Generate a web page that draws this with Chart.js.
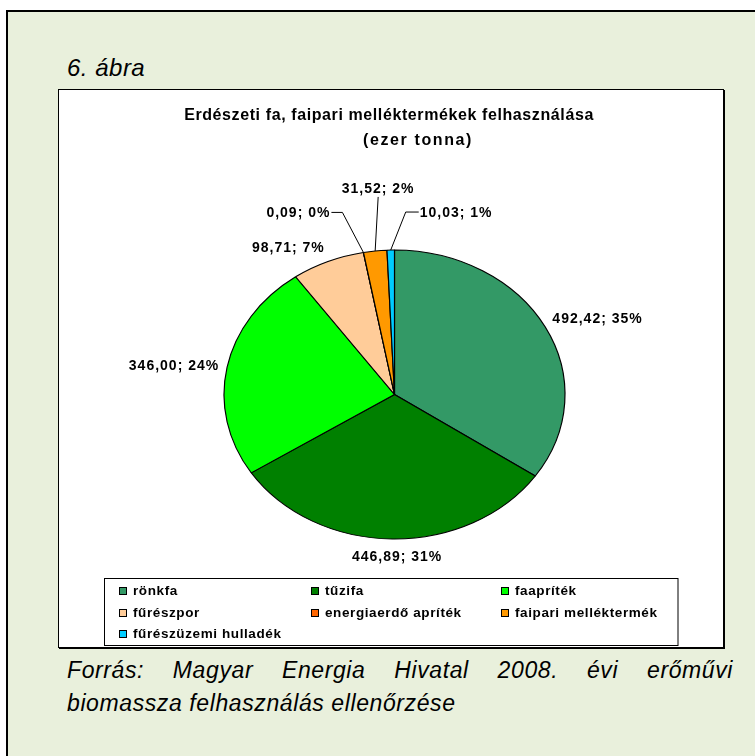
<!DOCTYPE html>
<html lang="hu">
<head>
<meta charset="utf-8">
<title>6. ábra</title>
<script src="https://cdn.jsdelivr.net/npm/chart.js@4.4.1/dist/chart.umd.min.js"></script>
<style>
  html, body { margin: 0; padding: 0; width: 755px; height: 756px; overflow: hidden; background: #fff;
    font-family: "Liberation Sans", Arial, sans-serif; }
  .frame { position: absolute; left: 6px; top: 10px; width: 800px; height: 800px;
    border: 2px solid #000; background: #E9F0DC; }
  .fig { position: absolute; left: 67px; top: 54px; font-size: 24px; line-height: 28px;
    font-style: italic; letter-spacing: 0.5px; }
  .box { position: absolute; left: 58px; top: 89px; width: 664px; height: 557px;
    border: 1px solid #000; box-shadow: 1px 1px 0 #000; background: #fff; }
  .box canvas { display: block; }
  .src { position: absolute; left: 67px; width: 666px; font-size: 23px; line-height: 33px;
    font-style: italic; letter-spacing: 0.6px; white-space: nowrap; }
  .src1 { top: 654px; text-align: justify; text-align-last: justify; white-space: normal; }
  .src2 { top: 687px; }
</style>
</head>
<body>
<div class="frame"></div>
<div class="fig">6. ábra</div>
<div class="box"><canvas id="chart" width="664" height="557"></canvas></div>
<div class="src src1">Forrás: Magyar Energia Hivatal 2008. évi erőművi</div>
<div class="src src2">biomassza felhasználás ellenőrzése</div>

<script>
// Adatok (ezer tonna)
const categories = ["rönkfa", "tűzifa", "faapríték", "fűrészpor", "energiaerdő apríték", "faipari melléktermék", "fűrészüzemi hulladék"];
const values = [492.42, 446.89, 346.00, 98.71, 0.09, 31.52, 10.03];
const sliceColors = ["#339966", "#008000", "#00FF00", "#FFCC99", "#FF6600", "#FF9900", "#00CCFF"];
const titleLines = ["Erdészeti fa, faipari melléktermékek felhasználása", "(ezer tonna)"];

// az Excel-es kör kissé ellipszis alakú
const X_STRETCH = 170.5 / 144.5;
const LABEL_GAP = 8;
const FONT = "'Liberation Sans', Arial, sans-serif";

// kis igazítások a címkéknél
const labelNudge = { 0: [0, 2], 1: [5, 4] };
// vezetővonalas címkék: elbow / text eltolás a szelet közepétől
const leaderLabels = {
  4: { elbow: [-21, -40], text: [-33, -39], align: "right" },
  5: { elbow: null, text: [3, -62], align: "center" },
  6: { elbow: [15, -38], text: [29, -37], align: "left" }
};

function formatLabel(v, total) {
  return v.toFixed(2).replace(".", ",") + "; " + Math.round((v / total) * 100) + "%";
}

function drawLabels(chart) {
  const ctx = chart.ctx;
  const arcs = chart.getDatasetMeta(0).data;
  const total = values.reduce((a, b) => a + b, 0);

  ctx.save();
  ctx.font = "bold 14px " + FONT;
  ctx.letterSpacing = "1px";
  ctx.fillStyle = "#000";
  ctx.strokeStyle = "#000";
  ctx.lineWidth = 1;
  ctx.textBaseline = "middle";

  arcs.forEach((arc, i) => {
    const text = formatLabel(values[i], total);
    const mid = (arc.startAngle + arc.endAngle) / 2;
    const cos = Math.cos(mid);
    const sin = Math.sin(mid);
    const r = arc.outerRadius;
    const px = arc.x + X_STRETCH * r * cos;
    const py = arc.y + r * sin;

    const leader = leaderLabels[i];
    if (leader) {
      const tx = px + leader.text[0];
      const ty = py + leader.text[1];
      ctx.beginPath();
      ctx.moveTo(px, py);
      if (leader.elbow) {
        const ex = px + leader.elbow[0];
        const ey = py + leader.elbow[1];
        ctx.lineTo(ex, ey);
        ctx.lineTo(leader.align === "right" ? tx + 1 : tx - 1, ey);
      } else {
        ctx.lineTo(tx, ty + 8);
      }
      ctx.stroke();
      ctx.textAlign = leader.align;
      ctx.fillText(text, tx, ty);
      return;
    }

    const nudge = labelNudge[i] || [0, 0];
    let tx = px + LABEL_GAP * cos + nudge[0];
    let ty = py + LABEL_GAP * sin + nudge[1];
    ctx.textAlign = cos > 0.3 ? "left" : cos < -0.3 ? "right" : "center";
    if (sin > 0.3) ty += 6;
    else if (sin < -0.3) ty -= 6;
    ctx.fillText(text, tx, ty);
  });
  ctx.restore();
}

const ellipsePie = {
  id: "ellipsePie",
  beforeDatasetsDraw(chart) {
    const arc = chart.getDatasetMeta(0).data[0];
    const ctx = chart.ctx;
    ctx.save();
    ctx.translate(arc.x, arc.y);
    ctx.scale(X_STRETCH, 1);
    ctx.translate(-arc.x, -arc.y);
  },
  afterDatasetsDraw(chart) {
    chart.ctx.restore();
    drawLabels(chart);
  }
};

// cím + jelmagyarázat (3 oszlopos Excel-es legenda)
const chartDecor = {
  id: "chartDecor",
  afterDraw(chart) {
    const ctx = chart.ctx;
    ctx.save();
    ctx.fillStyle = "#000";
    ctx.textBaseline = "middle";
    ctx.textAlign = "center";
    ctx.font = "bold 16px " + FONT;
    ctx.letterSpacing = "0.6px";
    ctx.fillText(titleLines[0], 330, 26);
    ctx.letterSpacing = "1.6px";
    ctx.fillText(titleLines[1], 359, 51);

    // legenda keret
    ctx.letterSpacing = "0px";
    ctx.fillStyle = "#fff";
    ctx.fillRect(45.5, 488.5, 573.5, 67);
    ctx.strokeStyle = "#000";
    ctx.lineWidth = 1;
    ctx.strokeRect(45.5, 488.5, 573.5, 67);

    const colX = [60, 252, 442];
    const rowY = [501, 523, 544];
    ctx.font = "bold 13.5px " + FONT;
    ctx.letterSpacing = "0.6px";
    ctx.textAlign = "left";
    categories.forEach((name, i) => {
      const x = colX[i % 3];
      const y = rowY[Math.floor(i / 3)];
      ctx.fillStyle = sliceColors[i];
      ctx.fillRect(x + 0.5, y - 3.5, 7, 7);
      ctx.strokeRect(x + 0.5, y - 3.5, 7, 7);
      ctx.fillStyle = "#000";
      ctx.fillText(name, x + 14, y);
    });
    ctx.restore();
  }
};

new Chart(document.getElementById("chart"), {
  type: "pie",
  data: {
    labels: categories,
    datasets: [{
      data: values,
      backgroundColor: sliceColors,
      borderColor: "#000",
      borderWidth: 1,
      clip: false
    }]
  },
  options: {
    responsive: false,
    devicePixelRatio: 1,
    animation: false,
    events: [],
    layout: { padding: { top: 159.5, bottom: 107.5, left: 7, right: 0 } },
    plugins: {
      legend: { display: false },
      title: { display: false },
      tooltip: { enabled: false }
    }
  },
  plugins: [ellipsePie, chartDecor]
});
</script>
</body>
</html>
